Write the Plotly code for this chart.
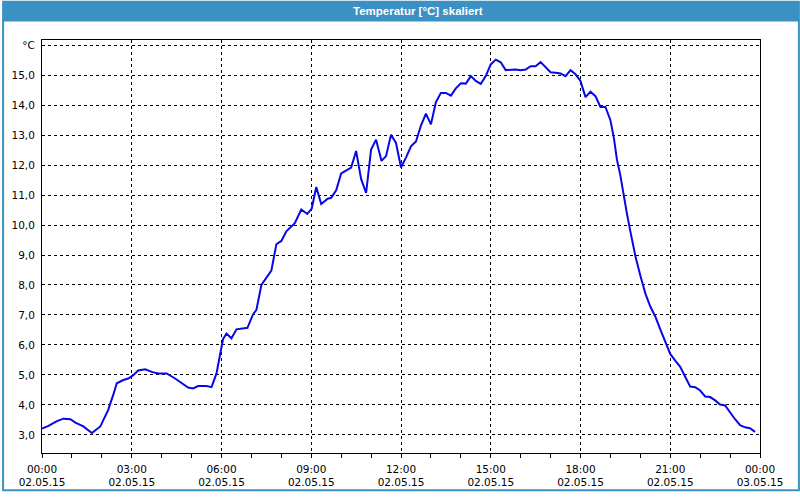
import plotly.graph_objects as go

# time in minutes since 02.05.15 00:00
minutes = [0, 13, 30, 43, 57, 67, 83, 100, 117, 133, 143, 150, 163, 173, 183, 193, 207, 220, 233, 250,
           267, 280, 293, 303, 313, 330, 340, 350, 357, 363, 370, 380, 390, 412, 423, 430, 440, 450, 460, 470,
           480, 490, 507, 520, 532, 541, 550, 560, 573, 580, 590, 600, 610, 620, 630, 640, 650, 660, 670, 681,
           690, 700, 710, 720, 730, 740, 750, 760, 770, 780, 790, 800, 810, 820, 830, 840, 850, 860, 870, 880,
           890, 900, 910, 920, 930, 940, 950, 960, 970, 980, 990, 1000, 1010, 1020, 1030, 1040, 1050, 1060, 1070, 1080,
           1090, 1100, 1110, 1120, 1130, 1140, 1147, 1153, 1160, 1167, 1173, 1180, 1190, 1200, 1210, 1220, 1230, 1240, 1250, 1260,
           1270, 1280, 1290, 1300, 1310, 1320, 1330, 1340, 1350, 1360, 1370, 1380, 1390, 1400, 1410, 1420, 1430]
temps = [3.21, 3.30, 3.46, 3.54, 3.52, 3.41, 3.28, 3.06, 3.28, 3.84, 4.34, 4.72, 4.83, 4.88, 4.99, 5.15, 5.19, 5.10, 5.05, 5.05,
         4.88, 4.72, 4.58, 4.55, 4.63, 4.63, 4.59, 5.05, 5.70, 6.19, 6.38, 6.22, 6.52, 6.57, 7.01, 7.17, 8.00, 8.26, 8.48, 9.36,
         9.47, 9.79, 10.06, 10.52, 10.37, 10.55, 11.27, 10.70, 10.88, 10.91, 11.16, 11.72, 11.83, 11.92, 12.47, 11.54, 11.07, 12.52, 12.85, 12.14,
         12.30, 13.01, 12.74, 11.92, 12.25, 12.63, 12.79, 13.32, 13.72, 13.36, 14.10, 14.41, 14.41, 14.32, 14.56, 14.73, 14.72, 14.97, 14.81, 14.71,
         14.97, 15.36, 15.52, 15.43, 15.17, 15.19, 15.19, 15.17, 15.19, 15.30, 15.30, 15.44, 15.28, 15.10, 15.08, 15.06, 14.97, 15.17, 15.03, 14.81,
         14.27, 14.45, 14.30, 13.94, 13.94, 13.50, 12.90, 12.19, 11.65, 10.94, 10.39, 9.79, 8.97, 8.32, 7.72, 7.28, 6.95, 6.52, 6.08, 5.70,
         5.48, 5.27, 4.94, 4.61, 4.59, 4.48, 4.28, 4.26, 4.15, 4.01, 3.98, 3.74, 3.52, 3.32, 3.25, 3.22, 3.10]

x_tickvals = [0, 180, 360, 540, 720, 900, 1080, 1260, 1440]
x_times = ["00:00", "03:00", "06:00", "09:00", "12:00", "15:00", "18:00", "21:00", "00:00"]
x_dates = ["02.05.15"] * 8 + ["03.05.15"]
y_tickvals = [3, 4, 5, 6, 7, 8, 9, 10, 11, 12, 13, 14, 15, 16]
y_ticktext = ["3,0", "4,0", "5,0", "6,0", "7,0", "8,0", "9,0", "10,0", "11,0", "12,0", "13,0", "14,0", "15,0", "°C"]
title_text = "Temperatur [°C] skaliert"

W, H = 800, 500
L, R, T, B = 40, 40, 40, 39
pw, ph = W - L - R, H - T - B
BLUE = "#3C91C4"

def px(xp):
    return (xp - L) / pw

def py(yp):
    return (H - B - yp) / ph

fig = go.Figure()
fig.add_trace(go.Scatter(x=minutes, y=temps, mode="lines",
                         line=dict(color="#0808E6", width=2), hoverinfo="skip"))

font = dict(family="DejaVu Sans", size=10.5, color="#000000")

fig.update_layout(
    width=W, height=H,
    margin=dict(l=L, r=R, t=T, b=B, pad=0),
    paper_bgcolor="white", plot_bgcolor="white",
    showlegend=False,
    font=font,
    xaxis=dict(range=[0, 1440], tickmode="array", tickvals=x_tickvals,
               ticktext=[f"{a}<br>{b}" for a, b in zip(x_times, x_dates)],
               showgrid=True, gridcolor="black", gridwidth=1, griddash="3px,3px",
               showline=True, linecolor="black", linewidth=1, mirror=True,
               ticks="outside", ticklen=4, tickcolor="black", tickwidth=1,
               minor=dict(tickvals=list(range(0, 1441, 60)), ticks="outside", ticklen=4,
                          tickcolor="black", showgrid=False),
               zeroline=False, tickfont=font, ticklabelstandoff=2),
    yaxis=dict(range=[2.394, 16.175], tickmode="array", tickvals=y_tickvals, ticktext=y_ticktext,
               showgrid=True, gridcolor="black", gridwidth=1, griddash="3px,3px",
               showline=True, linecolor="black", linewidth=1, mirror=True,
               ticks="", zeroline=False, tickfont=font, ticklabelstandoff=4),
    shapes=[
        dict(type="rect", xref="paper", yref="paper", x0=px(0), x1=px(W), y0=py(20), y1=py(0),
             fillcolor=BLUE, line=dict(width=0), layer="above"),
        dict(type="rect", xref="paper", yref="paper", x0=px(1), x1=px(W - 1), y0=py(H - 1), y1=py(20),
             fillcolor="rgba(0,0,0,0)", line=dict(color=BLUE, width=2), layer="above"),
    ],
    annotations=[
        dict(text="<b>" + title_text + "</b>", xref="paper", yref="paper", x=px(417), y=py(10),
             xanchor="center", yanchor="middle", showarrow=False,
             font=dict(family="Liberation Sans", size=11.5, color="white")),
    ],
)

fig.write_html("out.html")
